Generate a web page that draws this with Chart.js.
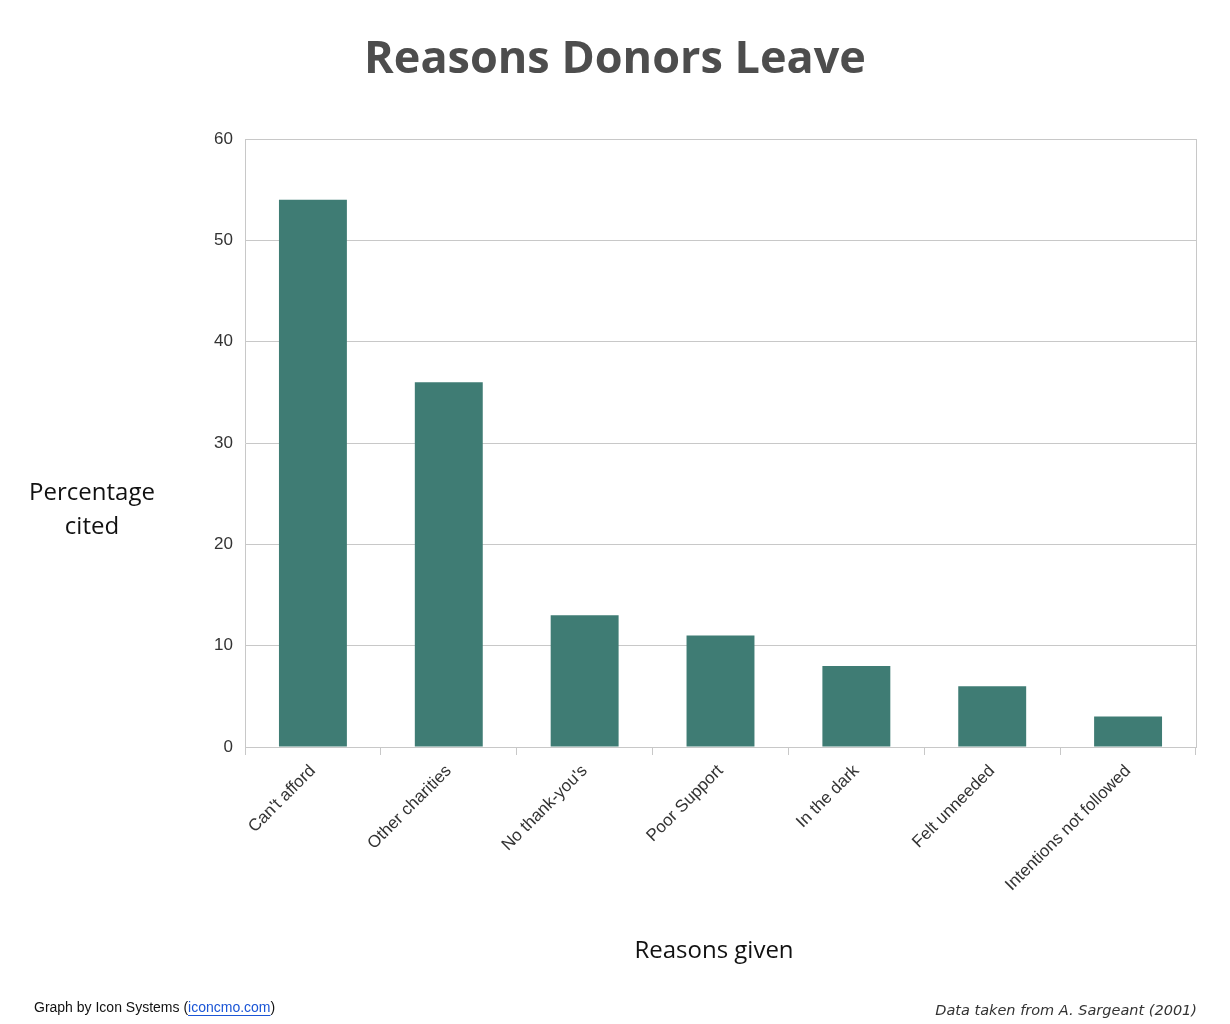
<!DOCTYPE html>
<html>
<head>
<meta charset="utf-8">
<script src="https://cdn.jsdelivr.net/npm/chart.js@4"></script>
<style>
  body{margin:0;background:#fff;}
  #wrap{position:relative;width:1230px;height:1024px;}
</style>
</head>
<body>
<div id="wrap"><canvas id="chart" width="1230" height="1024"></canvas></div>
<script>
// ---------------- DATA ----------------
const reasons = ["Can't afford","Other charities","No thank-you's","Poor Support","In the dark","Felt unneeded","Intentions not followed"];
const percentCited = [54,36,13,11,8,6,3];
const yTicks = [0,10,20,30,40,50,60];

// extra texts drawn on canvas
const textPlugin = {
  id:"texts",
  afterDraw(c){
    const ctx = c.ctx, a = c.chartArea;
    ctx.save();
    // right border
    ctx.strokeStyle = "#c8c8c8"; ctx.lineWidth = 1;
    ctx.beginPath(); ctx.moveTo(a.right+0.5,a.top); ctx.lineTo(a.right+0.5,a.bottom); ctx.stroke();

    ctx.textAlign = "center"; ctx.textBaseline = "middle";
    ctx.fillStyle = "#4d4d4d";
    ctx.font = "bold 45px 'Open Sans'";
    ctx.fillText("Reasons Donors Leave",615,60);

    ctx.fillStyle = "#111";
    ctx.font = "24px 'Open Sans'";
    ctx.fillText("Percentage",92,493);
    ctx.fillText("cited",92,527);
    ctx.fillText("Reasons given",714,951);

    ctx.textAlign = "left";
    ctx.font = "14px 'Liberation Sans'";
    const p1 = "Graph by Icon Systems (", link = "iconcmo.com";
    let x = 34;
    ctx.fillText(p1,x,1008); x += ctx.measureText(p1).width;
    ctx.fillStyle = "#1a55d6";
    ctx.fillText(link,x,1008);
    const lw = ctx.measureText(link).width;
    ctx.fillRect(x,1015,lw,1);
    x += lw;
    ctx.fillStyle = "#111";
    ctx.fillText(")",x,1008);

    ctx.textAlign = "right";
    ctx.fillStyle = "#333";
    ctx.font = "italic 14.5px 'DejaVu Sans'";
    ctx.fillText("Data taken from A. Sargeant (2001)",1197,1011);
    ctx.restore();
  }
};

new Chart(document.getElementById("chart"),{
  type:"bar",
  data:{
    labels:reasons,
    datasets:[{data:percentCited,backgroundColor:"#3f7c74",barPercentage:0.5,categoryPercentage:1}]
  },
  options:{
    responsive:false,
    animation:false,
    layout:{padding:{left:200,right:34,top:139,bottom:0}},
    plugins:{legend:{display:false},tooltip:{enabled:false}},
    scales:{
      y:{
        min:0,max:60,
        afterFit:s=>{s.width=45;},
        afterBuildTicks:s=>{s.ticks=yTicks.map(v=>({value:v}));},
        border:{color:"#c8c8c8"},
        grid:{color:"#c8c8c8",drawTicks:false},
        ticks:{color:"#333",font:{size:17,family:"Liberation Sans"},padding:12}
      },
      x:{
        afterFit:s=>{s.height=277;},
        border:{color:"#c8c8c8"},
        grid:{offset:true,drawOnChartArea:false,color:"#c8c8c8",tickLength:8},
        ticks:{color:"#333",font:{size:17,family:"Liberation Sans"},minRotation:45,maxRotation:45,padding:6}
      }
    }
  },
  plugins:[textPlugin]
});
</script>
</body>
</html>
